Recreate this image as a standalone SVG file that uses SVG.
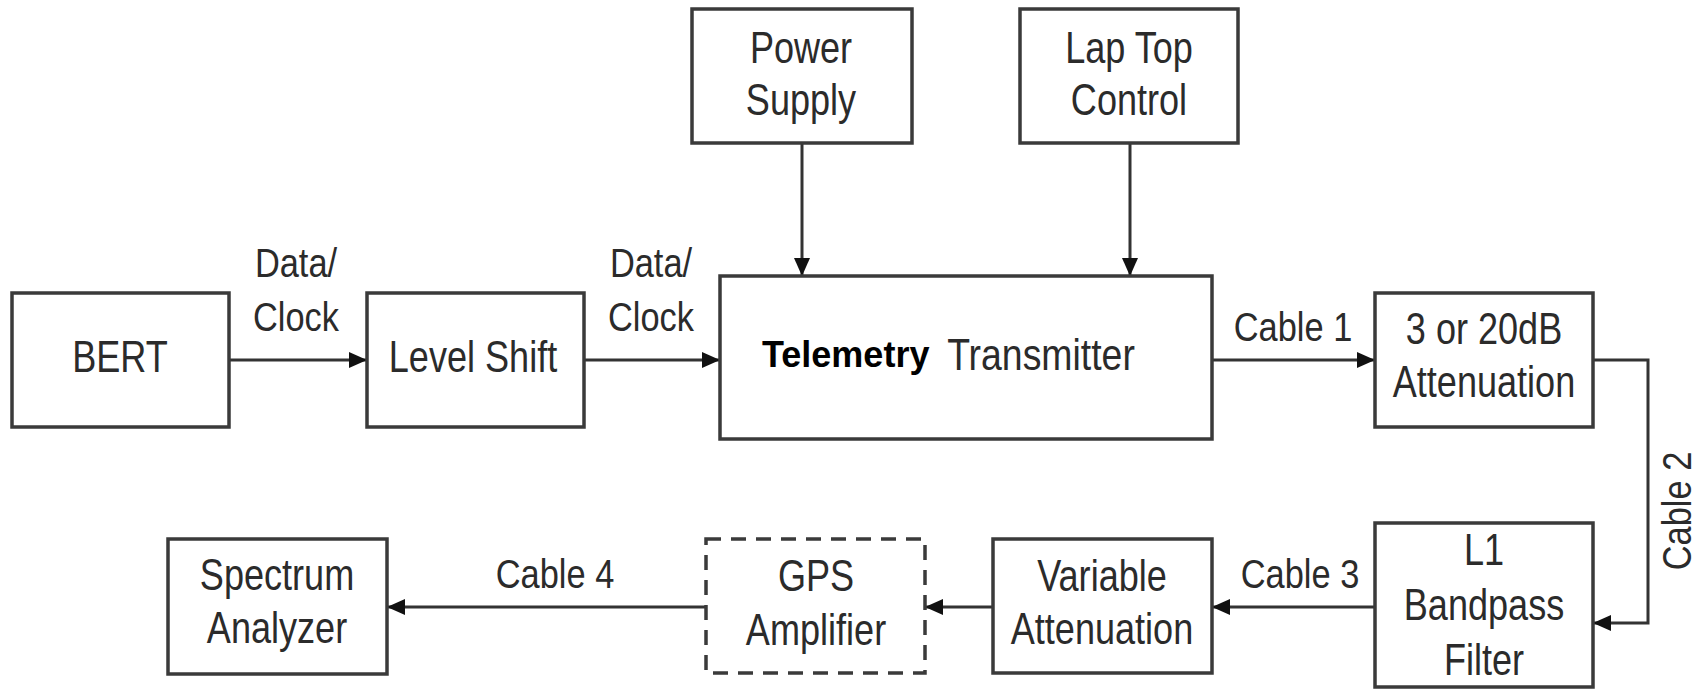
<svg xmlns="http://www.w3.org/2000/svg" width="1700" height="690" viewBox="0 0 1700 690">
  <style>
    .box { fill: #ffffff; stroke: #3a3a3a; stroke-width: 3.5; }
    .dash { stroke-dasharray: 15 10; }
    .lbl { font-family: "Liberation Sans", Arial, sans-serif; font-size: 44px; fill: #2b2b2b; text-anchor: middle; }
    .edge { font-family: "Liberation Sans", Arial, sans-serif; font-size: 40px; fill: #2b2b2b; text-anchor: middle; }
    .bold { font-family: "Liberation Sans", Arial, sans-serif; font-size: 36px; font-weight: bold; fill: #000000; }
    .wire { fill: none; stroke: #333333; stroke-width: 3; }
  </style>
  <defs>
    <marker id="arrow" viewBox="0 0 18 16" refX="18" refY="8" markerWidth="18" markerHeight="16" markerUnits="userSpaceOnUse" orient="auto">
      <path d="M0,0 L18,8 L0,16 Z" fill="#111111"/>
    </marker>
  </defs>
  <rect width="1700" height="690" fill="#ffffff"/>

  <!-- connectors -->
  <g id="connectors">
    <path class="wire" d="M229,360 H367" marker-end="url(#arrow)"/>
    <path class="wire" d="M584,360 H720" marker-end="url(#arrow)"/>
    <path class="wire" d="M802,143 V276" marker-end="url(#arrow)"/>
    <path class="wire" d="M1130,143 V276" marker-end="url(#arrow)"/>
    <path class="wire" d="M1212,360 H1375" marker-end="url(#arrow)"/>
    <path class="wire" d="M1593,360 H1648 V623 H1593" marker-end="url(#arrow)"/>
    <path class="wire" d="M1375,607 H1212" marker-end="url(#arrow)"/>
    <path class="wire" d="M993,607 H925" marker-end="url(#arrow)"/>
    <path class="wire" d="M706,607 H387" marker-end="url(#arrow)"/>

    <text class="edge" transform="translate(296,277) scale(0.86,1)">Data/</text>
    <text class="edge" transform="translate(296,331) scale(0.86,1)">Clock</text>
    <text class="edge" transform="translate(651,277) scale(0.86,1)">Data/</text>
    <text class="edge" transform="translate(651,331) scale(0.86,1)">Clock</text>
    <text class="edge" transform="translate(1293,341) scale(0.86,1)">Cable 1</text>
    <text class="edge" transform="translate(1691,511) rotate(-90) scale(0.86,1)">Cable 2</text>
    <text class="edge" transform="translate(1300,588) scale(0.86,1)">Cable 3</text>
    <text class="edge" transform="translate(555,588) scale(0.86,1)">Cable 4</text>
  </g>

  <g id="bert">
    <rect class="box" x="12" y="293" width="217" height="134"/>
    <text class="lbl" transform="translate(120,372) scale(0.82,1)">BERT</text>
  </g>

  <g id="level-shift">
    <rect class="box" x="367" y="293" width="217" height="134"/>
    <text class="lbl" transform="translate(473,372) scale(0.82,1)">Level Shift</text>
  </g>

  <g id="power-supply">
    <rect class="box" x="692" y="9" width="220" height="134"/>
    <text class="lbl" transform="translate(801,63) scale(0.82,1)">Power</text>
    <text class="lbl" transform="translate(801,115) scale(0.82,1)">Supply</text>
  </g>

  <g id="laptop-control">
    <rect class="box" x="1020" y="9" width="218" height="134"/>
    <text class="lbl" transform="translate(1129,63) scale(0.82,1)">Lap Top</text>
    <text class="lbl" transform="translate(1129,115) scale(0.82,1)">Control</text>
  </g>

  <g id="telemetry-transmitter">
    <rect class="box" x="720" y="276" width="492" height="163"/>
    <text class="bold" x="762" y="367">Telemetry</text>
    <text class="lbl" transform="translate(1041,370) scale(0.85,1)">Transmitter</text>
  </g>

  <g id="attenuator-fixed">
    <rect class="box" x="1375" y="293" width="218" height="134"/>
    <text class="lbl" transform="translate(1484,344) scale(0.82,1)">3 or 20dB</text>
    <text class="lbl" transform="translate(1484,397) scale(0.82,1)">Attenuation</text>
  </g>

  <g id="bandpass-filter">
    <rect class="box" x="1375" y="523" width="218" height="164"/>
    <text class="lbl" transform="translate(1484,565) scale(0.82,1)">L1</text>
    <text class="lbl" transform="translate(1484,620) scale(0.82,1)">Bandpass</text>
    <text class="lbl" transform="translate(1484,675) scale(0.82,1)">Filter</text>
  </g>

  <g id="attenuator-variable">
    <rect class="box" x="993" y="539" width="219" height="134"/>
    <text class="lbl" transform="translate(1102,591) scale(0.82,1)">Variable</text>
    <text class="lbl" transform="translate(1102,644) scale(0.82,1)">Attenuation</text>
  </g>

  <g id="gps-amplifier">
    <rect class="box dash" x="706" y="539" width="219" height="134"/>
    <text class="lbl" transform="translate(816,591) scale(0.82,1)">GPS</text>
    <text class="lbl" transform="translate(816,645) scale(0.82,1)">Amplifier</text>
  </g>

  <g id="spectrum-analyzer">
    <rect class="box" x="168" y="539" width="219" height="135"/>
    <text class="lbl" transform="translate(277,590) scale(0.82,1)">Spectrum</text>
    <text class="lbl" transform="translate(277,643) scale(0.82,1)">Analyzer</text>
  </g>
</svg>
